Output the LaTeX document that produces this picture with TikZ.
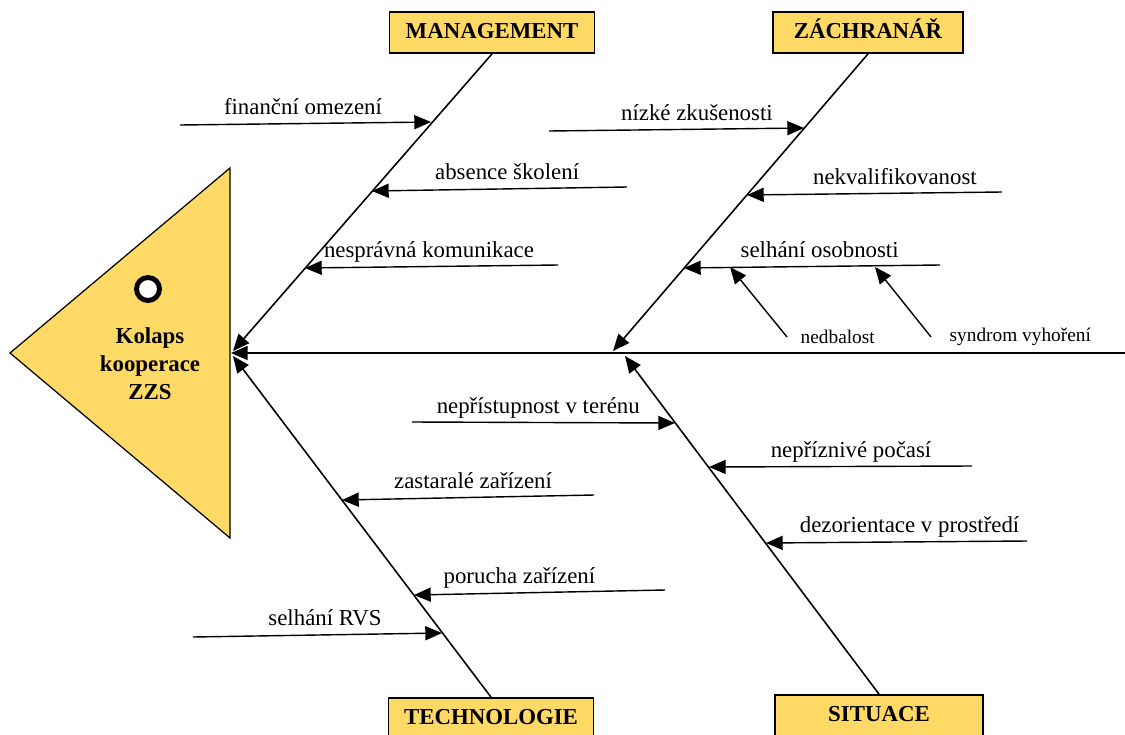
\documentclass[tikz,border=0pt]{standalone}
\usepackage{fontspec}
\setmainfont{Liberation Serif}
\usetikzlibrary{positioning, arrows.meta}
\definecolor{fishyellow}{HTML}{FFD966}

\begin{document}
\begin{tikzpicture}[
      x=0.02cm, y=-0.02cm,
      every node/.style={font=\fontsize{13}{16}\selectfont},
      catbox/.style={draw, fill=fishyellow, line width=1pt, minimum height=0.82cm, inner sep=0pt, text height=0.72em, text depth=0.05em, font=\fontsize{13}{16}\selectfont\bfseries},
      bone/.style={-{Triangle[length=9.5pt,width=8pt]}, line width=0.9pt},
      cause/.style={-{Triangle[length=9.5pt,width=8pt]}, line width=0.8pt},
      lbl/.style={above, inner sep=2.5pt, text height=0.7em, text depth=0.22em},
      small/.style={font=\fontsize{11}{13}\selectfont},
    ]
    \clip (0,0) rectangle (1125,734);

    % Head
    \draw[fill=fishyellow, line width=0.7pt] (10,353) -- (230,168) -- (230,538) -- cycle;
    \node[draw, circle, fill=white, line width=2.8pt, minimum size=0.46cm, inner sep=0pt] (dot) at (148,289) {};
    \node[align=center, font=\fontsize{13}{16}\selectfont\bfseries] (effect) at (150,364) {Kolaps\\kooperace\\ZZS};

    % Spine
    \coordinate (head) at (231,353);
    \coordinate (tail) at (1125,353);
    \draw[bone] (tail) -- (head);

    % Categories
    \node[catbox, minimum width=4.1cm] (M) at (492,32.5) {MANAGEMENT};
    \node[catbox, minimum width=3.8cm] (Z) at (868,32.5) {ZÁCHRANÁŘ};
    \node[catbox, minimum width=4.1cm] (T) at (491,718.5) {TECHNOLOGIE};
    \node[catbox, minimum width=4.16cm] (S) at (879,715.5) {SITUACE};

    \coordinate (mh) at (233,351);
    \coordinate (zh) at (613,351);
    \coordinate (th) at (233,356);
    \coordinate (sh) at (625,356);
    \draw[bone] (M.south) -- (mh);
    \draw[bone] (Z.south) -- (zh);
    \draw[bone] (T.north) -- (th);
    \draw[bone] (S.north) -- (sh);

    % Management
    \coordinate (m1a) at (180,125);  \coordinate (m1b) at (431,122);
    \coordinate (m2a) at (627,187);  \coordinate (m2b) at (372,191);
    \coordinate (m3a) at (558,265);  \coordinate (m3b) at (305,268);
    \draw[cause] (m1a) -- node[lbl, pos=0.49] {finanční omezení} (m1b);
    \draw[cause] (m2a) -- node[lbl, pos=0.47] {absence školení} (m2b);
    \draw[cause] (m3a) -- node[lbl, pos=0.51] {nesprávná komunikace} (m3b);

    % Zachranar
    \coordinate (z1a) at (549,131);  \coordinate (z1b) at (804,128);
    \coordinate (z2a) at (1002,192); \coordinate (z2b) at (747,195);
    \coordinate (z3a) at (940,265);  \coordinate (z3b) at (684,268);
    \draw[cause] (z1a) -- node[lbl, pos=0.58] {nízké zkušenosti} (z1b);
    \draw[cause] (z2a) -- node[lbl, pos=0.42] {nekvalifikovanost} (z2b);
    \draw[cause] (z3a) -- node[lbl, pos=0.47] {selhání osobnosti} (z3b);

    \coordinate (ned0) at (787,337); \coordinate (ned1) at (730,267);
    \coordinate (syn0) at (931,337); \coordinate (syn1) at (875,267);
    \node[small, right=0.15cm of ned0] (ned) {nedbalost};
    \node[small, right=0.25cm of syn0] (syn) {syndrom vyhoření};
    \draw[cause] (ned0) -- (ned1);
    \draw[cause] (syn0) -- (syn1);

    % Technologie
    \coordinate (t1a) at (594,495);  \coordinate (t1b) at (342,500);
    \coordinate (t2a) at (665,590);  \coordinate (t2b) at (414,595);
    \coordinate (t3a) at (193,637);  \coordinate (t3b) at (442,633);
    \draw[cause] (t1a) -- node[lbl, pos=0.48] {zastaralé zařízení} (t1b);
    \draw[cause] (t2a) -- node[lbl, pos=0.58] {porucha zařízení} (t2b);
    \draw[cause] (t3a) -- node[lbl, pos=0.53] {selhání RVS} (t3b);

    % Situace
    \coordinate (s1a) at (412,422);  \coordinate (s1b) at (675,423);
    \coordinate (s2a) at (972,466);  \coordinate (s2b) at (709,467);
    \coordinate (s3a) at (1027,541); \coordinate (s3b) at (766,543);
    \draw[cause] (s1a) -- node[lbl, pos=0.48] {nepřístupnost v terénu} (s1b);
    \draw[cause] (s2a) -- node[lbl, pos=0.46] {nepříznivé počasí} (s2b);
    \draw[cause] (s3a) -- node[lbl, pos=0.45] {dezorientace v prostředí} (s3b);
  \end{tikzpicture}
\end{document}
